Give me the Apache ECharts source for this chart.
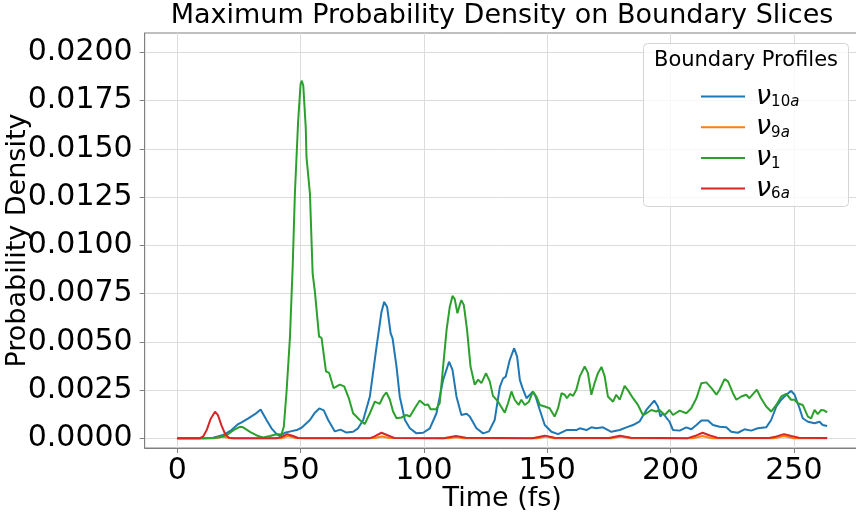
<!DOCTYPE html>
<html><head><meta charset="utf-8">
<script src="https://cdn.jsdelivr.net/npm/echarts@6/dist/echarts.min.js"></script>
<style>html,body{margin:0;padding:0;background:#fff}#c{width:856px;height:520px}</style>
</head><body><div id="c"></div>
<script>
const titleText = 'Maximum Probability Density on Boundary Slices';
const xName = 'Time (fs)';
const yName = 'Probability Density';
const legendTitle = 'Boundary Profiles';
const seriesNames = ['ν10a', 'ν9a', 'ν1', 'ν6a'];
const seriesSubs = [['10', 'a'], ['9', 'a'], ['1', ''], ['6', 'a']];
const seriesColors = ['#1f77b4', '#ff7f0e', '#2ca02c', '#d62728'];
const xTicks = [0, 50, 100, 150, 200, 250];
const yTicks = [0, 0.0025, 0.005, 0.0075, 0.01, 0.0125, 0.015, 0.0175, 0.02];

const nu10a = [[0,0],[10,0],[14.6,0.00003],[18.6,0.00017],[22,0.00043],[24.7,0.00074],[26.1,0.00083],[28.8,0.00104],[31.5,0.00125],[33.8,0.0015],[34.6,0.00142],[36.2,0.00095],[38.2,0.00052],[40.3,0.00022],[41.5,0.00012],[43.6,0.00029],[46,0.00036],[48.4,0.00043],[50.4,0.00055],[53.8,0.00095],[55.8,0.00133],[57.6,0.00155],[59.4,0.00145],[61.2,0.00095],[63.9,0.00036],[66.2,0.00045],[68.6,0.0003],[71.3,0.00034],[73.3,0.00052],[75.4,0.00095],[78.1,0.00217],[80.8,0.00475],[82.8,0.00655],[83.9,0.00707],[85.1,0.0068],[86.5,0.00545],[87.3,0.00518],[88.9,0.00372],[90.2,0.00217],[92.3,0.00095],[94.3,0.00052],[97,0.00026],[99.7,0.00029],[102.4,0.00052],[105.1,0.0013],[107.8,0.00303],[110.2,0.00397],[111.6,0.00355],[113.2,0.00217],[115.2,0.00121],[117.3,0.00127],[118.6,0.00113],[121.3,0.00052],[124,0.00026],[126.4,0.00036],[128.7,0.00095],[130.8,0.00267],[132.1,0.0031],[133.2,0.0032],[134.8,0.00406],[136.6,0.00467],[137.8,0.00423],[138.9,0.00303],[140,0.0026],[141.6,0.00208],[144.2,0.00242],[145.3,0.00217],[147,0.00147],[149,0.00069],[151.7,0.00034],[154.4,0.00022],[157.8,0.00043],[161.8,0.00043],[163.2,0.00052],[165.9,0.00043],[167.9,0.00057],[169.9,0.00052],[172.6,0.00057],[176,0.00034],[179.4,0.00043],[182.1,0.00057],[184.8,0.00069],[187.5,0.00088],[190.2,0.00147],[193.4,0.00196],[194.9,0.00165],[195.9,0.00113],[196.9,0.0013],[199.6,0.00086],[201,0.00043],[203.7,0.0004],[206.4,0.00057],[208.4,0.00047],[210.5,0.00069],[212.5,0.00092],[215.2,0.00092],[217.2,0.00069],[219.9,0.0006],[222.6,0.00057],[224.6,0.00034],[227.3,0.00029],[230,0.00047],[232.7,0.0004],[235.4,0.00052],[238.8,0.00057],[240.8,0.00095],[242.9,0.00165],[244.9,0.002],[246.9,0.00226],[248.9,0.00246],[250.3,0.00226],[252.3,0.00156],[253.6,0.00104],[255.7,0.00086],[258.4,0.00078],[260.4,0.00086],[261.7,0.00069],[263.5,0.00064]];

const nu9a = [[0,0],[15,0],[18.5,0.00008],[22,0],[42,0],[45,0.00012],[48,0.00002],[80,0.00002],[83,0.0001],[86,0.00002],[110,0],[113,0.00006],[116,0],[146,0],[149.5,0.0001],[153,0],[176,0],[180,0.0001],[184,0],[209,0],[213,0.00012],[217,0],[242,0],[246,0.00012],[250,0],[263.5,0]];

const nu1 = [[0,0],[12,0],[14.6,0.00002],[17,0.00006],[20,0.00017],[23.4,0.00047],[25.4,0.0006],[26.7,0.00057],[29.5,0.00034],[32.8,0.00012],[34.8,0.00005],[37.6,0.00012],[40.3,0.00021],[42.3,0.00022],[43.2,0.0006],[44.3,0.0024],[45.7,0.00525],[46.8,0.0089],[47.7,0.0127],[49,0.0164],[50,0.01835],[50.5,0.01853],[51.1,0.01827],[52.1,0.0161],[52.4,0.01457],[53.8,0.01267],[54.9,0.00853],[55.8,0.0076],[57.5,0.00527],[58.5,0.0052],[60.3,0.00347],[61.6,0.00339],[63.4,0.0026],[65.9,0.00278],[67.7,0.00269],[69.5,0.0021],[71.3,0.0013],[74,0.00095],[76,0.00074],[78.1,0.0013],[80.1,0.0019],[82.1,0.00179],[83.5,0.00217],[84.8,0.00238],[86.2,0.002],[87.5,0.00139],[88.9,0.00104],[90.9,0.00108],[92.9,0.00121],[94.3,0.00113],[96.3,0.00156],[98.3,0.00196],[100.4,0.00173],[101.7,0.00175],[102.7,0.00151],[104.9,0.00151],[106.4,0.00182],[107.8,0.00373],[109.2,0.00562],[110.5,0.00682],[111.6,0.00738],[112.5,0.00721],[113.6,0.00648],[114.5,0.0069],[115.2,0.00716],[116.2,0.0069],[117.5,0.00562],[118.9,0.00373],[120.6,0.00278],[122,0.00304],[123.3,0.00286],[125.2,0.00337],[126.7,0.00295],[128,0.0022],[130.1,0.0019],[132.8,0.00133],[134.1,0.00182],[135.5,0.00243],[136.8,0.002],[138.4,0.00173],[139.5,0.002],[140.9,0.00173],[142.6,0.0019],[144.2,0.00243],[145.6,0.00217],[147,0.00173],[149,0.00165],[151,0.00156],[153,0.00113],[154.4,0.00156],[155.8,0.00234],[157.1,0.00226],[158,0.00208],[159.2,0.0023],[160.5,0.0022],[161.8,0.00252],[163.2,0.00321],[165.2,0.00372],[166.5,0.00339],[167.9,0.00226],[169.2,0.00286],[170.6,0.00339],[172,0.0037],[173.3,0.00321],[174.6,0.00217],[176.7,0.0019],[178,0.00226],[179.4,0.002],[181.4,0.00272],[182.7,0.0025],[184.8,0.00208],[186.8,0.00173],[188.8,0.00121],[190.2,0.0013],[192.2,0.00147],[194.2,0.00139],[195.5,0.00147],[197.6,0.00121],[199.6,0.00147],[201,0.00121],[203.7,0.00144],[206.4,0.0013],[208.4,0.00156],[210.5,0.00208],[212.5,0.00286],[214.5,0.0029],[216.6,0.0026],[218.6,0.00226],[219.9,0.00252],[221.9,0.00307],[223.3,0.00295],[225.3,0.00234],[226.7,0.002],[228.7,0.00217],[230.7,0.00226],[232,0.00208],[235,0.00252],[236.7,0.00208],[238.8,0.00165],[240.8,0.00139],[242.9,0.00173],[244.9,0.00217],[246.9,0.00231],[248.9,0.002],[250.3,0.002],[251.6,0.00182],[253.6,0.00173],[255.7,0.00113],[257,0.00104],[258.4,0.00147],[259.7,0.00125],[261.1,0.00147],[262.4,0.00144],[263.5,0.00135]];

const nu6a = [[0,0],[9,0],[10.5,0.0001],[12,0.00045],[13.5,0.001],[15.3,0.00138],[16.5,0.0012],[18,0.00065],[19.5,0.0002],[21,0.00003],[23,0],[40,0],[42,0.00005],[44.5,0.00022],[47,0.00012],[49,0.00002],[52,0],[78,0],[80,0.0001],[82.8,0.00029],[85.5,0.00015],[88,0.00002],[108,0.00001],[113,0.00012],[117,0.00003],[144,0.00001],[149,0.00014],[153,0.00003],[175,0.00002],[179.5,0.00014],[184,0.00003],[207,0.00001],[210.5,0.00015],[213,0.00029],[216,0.00015],[219,0.00003],[240,0.00002],[243,0.0001],[246,0.00022],[249,0.00012],[252,0.00003],[263.5,0.00002]];

const seriesData = [nu10a, nu9a, nu1, nu6a];

const FONT = 'DejaVu Sans';
const chart = echarts.init(document.getElementById('c'), null, {renderer: 'canvas'});
const richText = {
  nu: {fontFamily: FONT, fontStyle: 'italic', fontSize: 27, lineHeight: 28, color: '#000', padding: [0, 0, 0, 6]},
  sub: {fontFamily: FONT, fontSize: 15, lineHeight: 15, color: '#000', padding: [12, 0, 0, 0]},
  subi: {fontFamily: FONT, fontStyle: 'italic', fontSize: 15, lineHeight: 15, color: '#000', padding: [12, 0, 0, 0]}
};
const option = {
  animation: false,
  backgroundColor: '#ffffff',
  textStyle: {fontFamily: FONT},
  grid: {left: 144.7, top: 33, width: 715, height: 415, show: true, borderColor: '#808080', borderWidth: 1,
         backgroundColor: 'transparent', containLabel: false, outerBoundsMode: 'none'},
  xAxis: {
    type: 'value', min: -13.2, max: 276.7,
    axisLine: {show: true, onZero: false, lineStyle: {color: '#808080', width: 1}},
    axisTick: {show: true, length: 5, customValues: xTicks, lineStyle: {color: '#808080'}},
    axisLabel: {customValues: xTicks, fontSize: 30, color: '#000', margin: 8, fontFamily: FONT, formatter: v => String(v)},
    splitLine: {show: true, lineStyle: {color: '#dcdcdc', width: 1}},
    name: xName, nameLocation: 'middle', nameGap: 37, nameMoveOverlap: false,
    nameTextStyle: {fontSize: 27, color: '#000', fontFamily: FONT}
  },
  yAxis: {
    type: 'value', min: -0.0005, max: 0.021,
    axisLine: {show: true, onZero: false, lineStyle: {color: '#808080', width: 1}},
    axisTick: {show: true, length: 5, customValues: yTicks, lineStyle: {color: '#808080'}},
    axisLabel: {customValues: yTicks, fontSize: 30, color: '#000', margin: 12, fontFamily: FONT, formatter: v => v.toFixed(4)},
    splitLine: {show: true, lineStyle: {color: '#dcdcdc', width: 1}},
    name: yName, nameLocation: 'middle', nameGap: 113, nameMoveOverlap: false,
    nameTextStyle: {fontSize: 27, color: '#000', fontFamily: FONT}
  },
  legend: {
    data: seriesNames, orient: 'vertical', left: 696, top: 78, z: 20,
    icon: 'rect', itemWidth: 44, itemHeight: 2, itemGap: 3.7,
    formatter: name => {
      const s = seriesSubs[seriesNames.indexOf(name)];
      return '{nu|ν}{sub|' + s[0] + '}' + (s[1] ? '{subi|' + s[1] + '}' : '');
    },
    textStyle: {rich: richText}
  },
  graphic: [
    {type: 'rect', z: 15, shape: {x: 643.5, y: 43.5, width: 205, height: 163, r: 4},
     style: {fill: 'rgba(255,255,255,0.8)', stroke: '#d5d5d5', lineWidth: 1}},
    {type: 'text', z: 16, x: 746, y: 61, style: {text: legendTitle, font: '21px "DejaVu Sans"', fill: '#000', textAlign: 'center', textVerticalAlign: 'middle'}},
    {type: 'text', z: 16, x: 502, y: 16, style: {text: titleText, font: '27px "DejaVu Sans"', fill: '#000', textAlign: 'center', textVerticalAlign: 'middle'}}
  ],
  series: seriesNames.map((n, i) => ({
    name: n, type: 'line', data: seriesData[i], showSymbol: false, symbol: 'none',
    lineStyle: {color: seriesColors[i], width: 2}, itemStyle: {color: seriesColors[i]},
    smooth: false, z: 3 + i
  }))
};
chart.setOption(option);
</script></body></html>
